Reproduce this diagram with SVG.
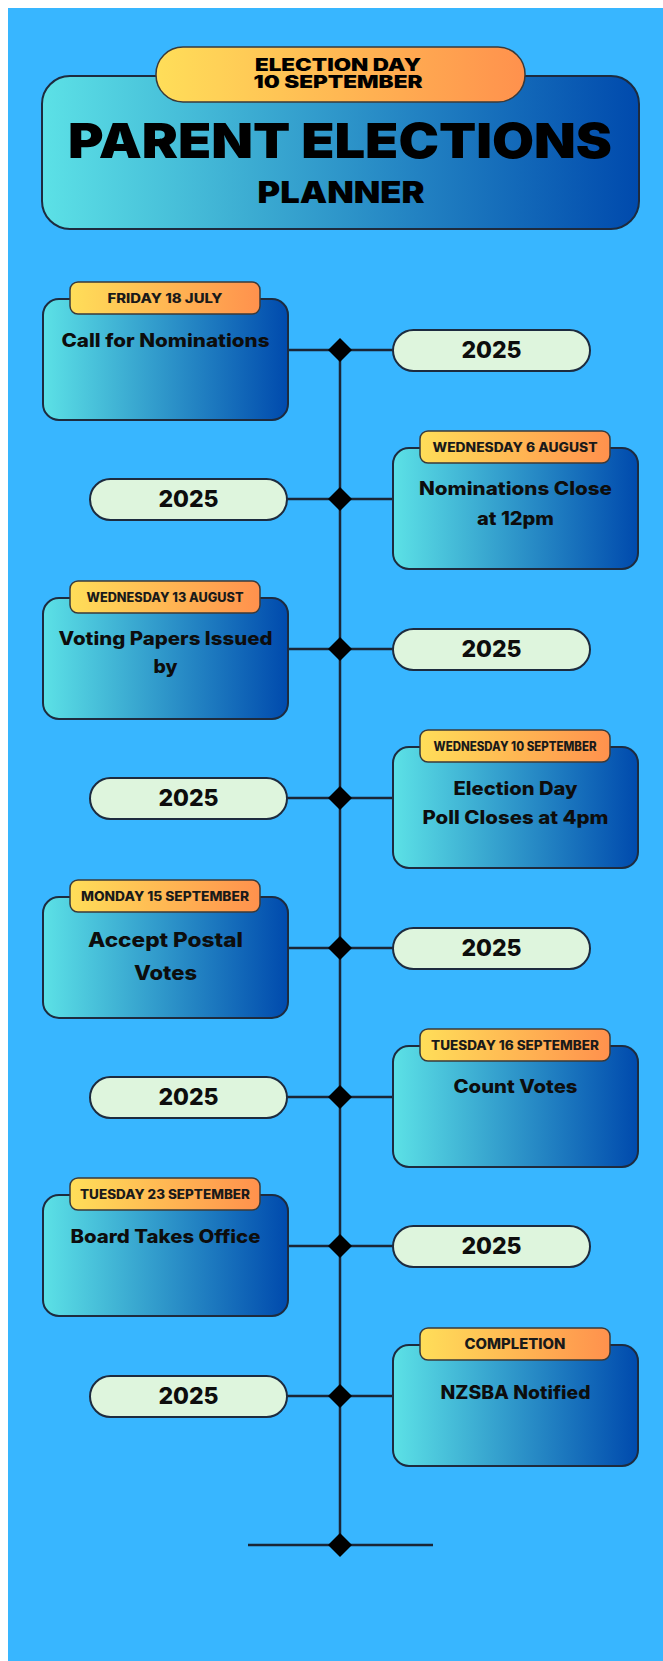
<svg xmlns="http://www.w3.org/2000/svg" width="663" height="1661" viewBox="0 0 663 1661">
<defs>
<linearGradient id="blueGrad" x1="0" y1="0" x2="1" y2="0">
<stop offset="0" stop-color="#5ce1e6"/>
<stop offset="1" stop-color="#004aad"/>
</linearGradient>
<linearGradient id="orangeGrad" x1="0" y1="0" x2="1" y2="0">
<stop offset="0" stop-color="#ffde59"/>
<stop offset="1" stop-color="#ff914d"/>
</linearGradient>
<style>
.card{fill:url(#blueGrad);stroke:#1d2b3f;stroke-width:2}
.tag{fill:url(#orangeGrad);stroke:#3a3a3a;stroke-width:1.5}
.pill{fill:#def5dd;stroke:#1d2b3f;stroke-width:2}
.line{stroke:#1a2636;stroke-width:2.5;fill:none}
.dia{fill:#000}
.t{font-family:Inter,"Liberation Sans",sans-serif;font-weight:800;fill:#0d0d0d;text-anchor:middle}
.tagt{font-family:Inter,"Liberation Sans",sans-serif;font-weight:800;fill:#1a1a1a;text-anchor:middle;font-size:12.5px}
.yr{font-family:Inter,"Liberation Sans",sans-serif;font-weight:800;fill:#0d0d0d;text-anchor:middle;font-size:23px}
.hd{font-family:Inter,"Liberation Sans",sans-serif;font-weight:900;fill:#000;text-anchor:middle}
</style>
</defs>
<rect x="0" y="0" width="663" height="1661" fill="#ffffff"/>
<rect x="8" y="8" width="655" height="1653" fill="#38b6ff"/>

<g id="header">
<rect x="42" y="76" width="597" height="153" rx="28" class="card"/>
<rect x="156" y="47" width="369" height="55" rx="27" class="tag" stroke="#1d2b3f" stroke-width="2"/>
<text x="338" y="71" class="hd" font-size="17" textLength="166" lengthAdjust="spacingAndGlyphs">ELECTION DAY</text>
<text x="338" y="88" class="hd" font-size="17" textLength="169" lengthAdjust="spacingAndGlyphs">10 SEPTEMBER</text>
<text x="340" y="158" class="hd" font-size="48" textLength="544" lengthAdjust="spacingAndGlyphs">PARENT ELECTIONS</text>
<text x="341" y="203" class="hd" font-size="30" textLength="167" lengthAdjust="spacingAndGlyphs">PLANNER</text>
</g>

<g id="connectors">
<line x1="340" y1="350" x2="340" y2="1545" class="line"/>
<line x1="288" y1="350" x2="393" y2="350" class="line"/>
<line x1="287" y1="499" x2="393" y2="499" class="line"/>
<line x1="288" y1="649" x2="393" y2="649" class="line"/>
<line x1="287" y1="798" x2="393" y2="798" class="line"/>
<line x1="288" y1="948" x2="393" y2="948" class="line"/>
<line x1="287" y1="1097" x2="393" y2="1097" class="line"/>
<line x1="288" y1="1246" x2="393" y2="1246" class="line"/>
<line x1="287" y1="1396" x2="393" y2="1396" class="line"/>
<line x1="248" y1="1545" x2="433" y2="1545" class="line"/>
<path class="dia" d="M340 338 L352 350 L340 362 L328 350 Z"/>
<path class="dia" d="M340 487 L352 499 L340 511 L328 499 Z"/>
<path class="dia" d="M340 637 L352 649 L340 661 L328 649 Z"/>
<path class="dia" d="M340 786 L352 798 L340 810 L328 798 Z"/>
<path class="dia" d="M340 936 L352 948 L340 960 L328 948 Z"/>
<path class="dia" d="M340 1085 L352 1097 L340 1109 L328 1097 Z"/>
<path class="dia" d="M340 1234 L352 1246 L340 1258 L328 1246 Z"/>
<path class="dia" d="M340 1384 L352 1396 L340 1408 L328 1396 Z"/>
<path class="dia" d="M340 1533 L352 1545 L340 1557 L328 1545 Z"/>
</g>

<g id="step1">
<rect x="43" y="299" width="245" height="121" rx="16" class="card"/>
<rect x="70" y="282" width="190" height="32" rx="8" class="tag"/>
<text x="165" y="303" class="tagt" textLength="115" lengthAdjust="spacingAndGlyphs">FRIDAY 18 JULY</text>
<text x="165.5" y="347" class="t" font-size="18.5" textLength="208" lengthAdjust="spacingAndGlyphs">Call for Nominations</text>
</g>
<g id="year1">
<rect x="393" y="330" width="197" height="41" rx="20.5" class="pill"/>
<text x="491.5" y="358" class="yr">2025</text>
</g>

<g id="step2">
<rect x="393" y="448" width="245" height="121" rx="16" class="card"/>
<rect x="420" y="431" width="190" height="32" rx="8" class="tag"/>
<text x="515" y="452" class="tagt" textLength="165" lengthAdjust="spacingAndGlyphs">WEDNESDAY 6 AUGUST</text>
<text x="515.5" y="495" class="t" font-size="18.5" textLength="193" lengthAdjust="spacingAndGlyphs">Nominations Close</text>
<text x="515.5" y="525" class="t" font-size="18.5" textLength="77" lengthAdjust="spacingAndGlyphs">at 12pm</text>
</g>
<g id="year2">
<rect x="90" y="479" width="197" height="41" rx="20.5" class="pill"/>
<text x="188.5" y="507" class="yr">2025</text>
</g>

<g id="step3">
<rect x="43" y="598" width="245" height="121" rx="16" class="card"/>
<rect x="70" y="581" width="190" height="32" rx="8" class="tag"/>
<text x="165" y="602" class="tagt" textLength="157" lengthAdjust="spacingAndGlyphs">WEDNESDAY 13 AUGUST</text>
<text x="165.5" y="645" class="t" font-size="18.5" textLength="214" lengthAdjust="spacingAndGlyphs">Voting Papers Issued</text>
<text x="165.5" y="673" class="t" font-size="18.5" textLength="24" lengthAdjust="spacingAndGlyphs">by</text>
</g>
<g id="year3">
<rect x="393" y="629" width="197" height="41" rx="20.5" class="pill"/>
<text x="491.5" y="657" class="yr">2025</text>
</g>

<g id="step4">
<rect x="393" y="747" width="245" height="121" rx="16" class="card"/>
<rect x="420" y="730" width="190" height="32" rx="8" class="tag"/>
<text x="515" y="751" class="tagt" textLength="163" lengthAdjust="spacingAndGlyphs">WEDNESDAY 10 SEPTEMBER</text>
<text x="515.5" y="795" class="t" font-size="18.5" textLength="124" lengthAdjust="spacingAndGlyphs">Election Day</text>
<text x="515.5" y="824" class="t" font-size="18.5" textLength="186" lengthAdjust="spacingAndGlyphs">Poll Closes at 4pm</text>
</g>
<g id="year4">
<rect x="90" y="778" width="197" height="41" rx="20.5" class="pill"/>
<text x="188.5" y="806" class="yr">2025</text>
</g>

<g id="step5">
<rect x="43" y="897" width="245" height="121" rx="16" class="card"/>
<rect x="70" y="880" width="190" height="32" rx="8" class="tag"/>
<text x="165" y="901" class="tagt" textLength="168" lengthAdjust="spacingAndGlyphs">MONDAY 15 SEPTEMBER</text>
<text x="165.5" y="947" class="t" font-size="20" textLength="155" lengthAdjust="spacingAndGlyphs">Accept Postal</text>
<text x="165.5" y="980" class="t" font-size="20" textLength="63" lengthAdjust="spacingAndGlyphs">Votes</text>
</g>
<g id="year5">
<rect x="393" y="928" width="197" height="41" rx="20.5" class="pill"/>
<text x="491.5" y="956" class="yr">2025</text>
</g>

<g id="step6">
<rect x="393" y="1046" width="245" height="121" rx="16" class="card"/>
<rect x="420" y="1029" width="190" height="32" rx="8" class="tag"/>
<text x="515" y="1050" class="tagt" textLength="168" lengthAdjust="spacingAndGlyphs">TUESDAY 16 SEPTEMBER</text>
<text x="515.5" y="1093" class="t" font-size="18.5" textLength="124" lengthAdjust="spacingAndGlyphs">Count Votes</text>
</g>
<g id="year6">
<rect x="90" y="1077" width="197" height="41" rx="20.5" class="pill"/>
<text x="188.5" y="1105" class="yr">2025</text>
</g>

<g id="step7">
<rect x="43" y="1195" width="245" height="121" rx="16" class="card"/>
<rect x="70" y="1178" width="190" height="32" rx="8" class="tag"/>
<text x="165" y="1199" class="tagt" textLength="170" lengthAdjust="spacingAndGlyphs">TUESDAY 23 SEPTEMBER</text>
<text x="165.5" y="1243" class="t" font-size="18.5" textLength="190" lengthAdjust="spacingAndGlyphs">Board Takes Office</text>
</g>
<g id="year7">
<rect x="393" y="1226" width="197" height="41" rx="20.5" class="pill"/>
<text x="491.5" y="1254" class="yr">2025</text>
</g>

<g id="step8">
<rect x="393" y="1345" width="245" height="121" rx="16" class="card"/>
<rect x="420" y="1328" width="190" height="32" rx="8" class="tag"/>
<text x="515" y="1349" class="tagt" style="font-size:14px" textLength="101" lengthAdjust="spacingAndGlyphs">COMPLETION</text>
<text x="515.5" y="1399" class="t" font-size="18.5" textLength="150" lengthAdjust="spacingAndGlyphs">NZSBA Notified</text>
</g>
<g id="year8">
<rect x="90" y="1376" width="197" height="41" rx="20.5" class="pill"/>
<text x="188.5" y="1404" class="yr">2025</text>
</g>
</svg>
